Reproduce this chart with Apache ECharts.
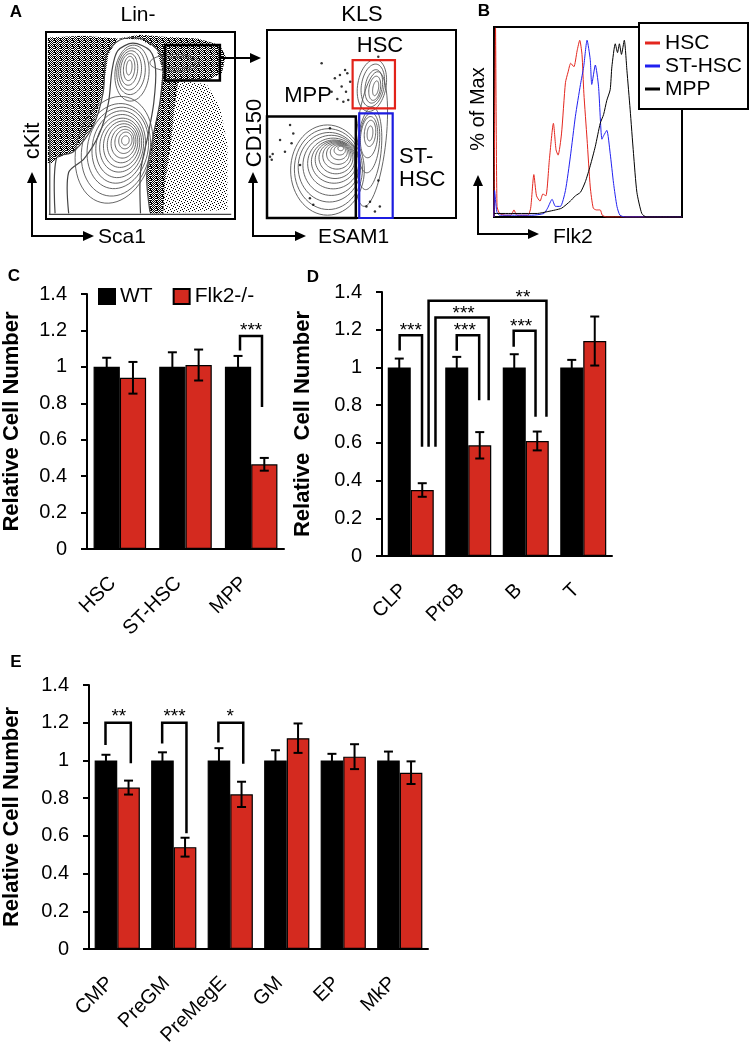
<!DOCTYPE html>
<html>
<head>
<meta charset="utf-8">
<script src="https://cdn.jsdelivr.net/npm/echarts/dist/echarts.min.js"></script>
<style>
html, body { margin: 0; padding: 0; background: #fff; }
#chart { width: 754px; height: 1050px; }
</style>
</head>
<body>
<div id="chart"></div>
<script>
var FONT = '"Liberation Sans", Arial, Helvetica, sans-serif';
var RED = '#d42a1f';

// ---- panel A : Lin- plot (units 0..100 on both axes)
var linRings = [
    [42, 42, 2, 2.5, 10], [42, 42, 3.5, 4.5, 10], [41.5, 41.5, 5, 6.5, 10], [41, 41, 6.5, 8.5, 10],
    [40.5, 40.5, 8, 10.5, 10], [40, 40, 9.5, 12.5, 10], [39.5, 39.5, 11, 14.5, 10], [39, 39, 12.5, 17, 10],
    [38.5, 38.5, 14, 19.5, 10], [38, 38, 16, 22, 12], [37, 37, 18, 25, 12], [36, 37, 20, 29, 14],
    [44, 81, 1.5, 4, 5], [44, 80.5, 3, 6.5, 5], [44, 80, 4.5, 8.5, 5], [44.5, 79.5, 6, 10.5, 5],
    [45, 79, 7.5, 12.5, 5], [45.5, 78, 9, 15, 5],
    [70, 83.5, 9, 3, 0], [68, 83.5, 13, 4.5, 0]
];
var linOutline = [
    [[4.8, 3], [5.6, 32.6], [14.5, 36], [25, 50], [30.3, 68], [32, 87.7], [39, 95.7], [49.7, 96.6], [58.5, 91], [62, 84], [60.3, 62.7], [56.8, 44.9], [53.3, 23.5], [55, 3.8]],
    [[12, 3], [12, 25], [20, 32], [28, 45], [33, 62], [35, 80], [38, 90], [46, 94], [55, 90], [58, 80], [57, 62], [54, 45], [50, 25], [50, 3]],
    [[1.5, 2.5], [98, 2.5]],
    [[2, 2.5], [2, 48]]
];
var linDense = [
    [[1, 97], [20, 98], [38, 96.5], [33, 88], [30, 68], [25, 50], [14.5, 36], [5.6, 32.6], [3, 30], [1, 30]],
    [[38, 96.5], [50, 98.5], [62, 97.5], [80, 96.5], [92, 93], [95, 87], [93, 78], [85, 74], [70, 74], [62, 78], [58.5, 91], [50, 96]],
    [[62, 84], [66, 76], [70, 74], [68, 60], [66, 40], [63, 20], [62, 3], [55, 3], [53.3, 23.5], [56.8, 44.9], [60.3, 62.7]]
];
var linSparse = [
    [[70, 74], [85, 72], [92, 60], [96, 40], [96, 5], [62, 3], [63, 20], [66, 40], [68, 60]]
];
var linGates = [[63, 74, 92, 93, 0]];

// ---- panel A : KLS plot
var klsRings = [
    [39, 37, 1.5, 1.2, 0], [38.5, 36, 3, 2.5, 0], [38, 35, 4.5, 4, 0], [37.5, 34, 6, 5.5, 0],
    [37, 33, 7.5, 7, 0], [36.5, 32, 9, 8.5, 0], [36, 31, 10.5, 10, 0], [35.5, 30, 12, 11.5, 0],
    [35, 29, 13.5, 13.5, 0], [34, 28, 15, 16, 0], [33, 27, 16.5, 18.5, 0], [32.5, 26, 18, 21.5, 0],
    [32, 25.5, 19.5, 24, 0],
    [57.5, 69, 1.5, 4, 10], [57, 69, 3, 6.5, 10], [56.5, 70, 4.5, 9, 10], [56, 70.5, 6, 11.5, 10], [55.5, 70.5, 7.5, 14, 10],
    [54.5, 45, 1.5, 4, 5], [54.5, 45, 3, 7, 5], [54, 43, 4.5, 11, 5], [54, 40, 5.5, 16, 5], [54, 37, 6.5, 22, 5], [55, 42, 8, 36, 6]
];
var klsDots = [
    [28.9, 82.3], [35.9, 74.3], [38.6, 76], [41.3, 78.7], [42.5, 77], [44, 72.5], [39.5, 70], [41.8, 67.2],
    [37.2, 63.3], [40.4, 61.9], [43, 62.8], [34.2, 67.2], [58.9, 85.8], [1.6, 32.6], [2.5, 31], [3, 34],
    [6.9, 41.5], [9.5, 35.3], [13.9, 45], [13, 39.7], [17.5, 28.2], [22.7, 10.5], [24.5, 7], [54.5, 8.7],
    [57.1, 3.4], [59.7, 6.1], [58.9, 20], [52.6, 6.1], [12.2, 49.5], [33.3, 47.7]
];
// x1, y1, x2, y2, colour index
var klsGates = [[0, 0, 47, 54, 0], [45.3, 58.3, 67.7, 84, 1], [48.8, 0, 66.5, 55.7, 2]];
var gateColors = ['#000000', '#e2231a', '#1c1ce0'];

// ---- panel B : Flk2 histograms (x 0..100, % of max)
var histHSC = [[0, 0], [0.8, 107], [1.6, 6], [3, 2], [6, 1], [9, 1], [10.6, 4], [12.2, 1], [18, 1], [19.5, 5], [21.2, 24],
    [22.6, 12], [24.5, 9], [26, 13], [27.6, 12], [29.5, 33], [31.6, 53], [33, 38], [34.1, 35], [35.9, 47], [38, 76],
    [39.4, 82], [40.8, 87], [42.5, 85], [44.2, 94], [45.6, 100], [46.8, 92], [47.8, 70], [49.5, 44], [51.2, 17],
    [52.8, 5], [54.5, 4], [56.5, 4], [57.6, 1], [60, 0], [100, 0]];
var histST = [[0, 0], [0.3, 15], [1.5, 3], [3, 1], [10, 1], [20, 1], [26.5, 2], [28.5, 5], [30.9, 10], [32.7, 6], [35.3, 6],
    [38, 15], [40.6, 34], [43.3, 57], [46, 75], [47.7, 85], [49.5, 100], [51.2, 89], [52, 75], [53.9, 86], [55.6, 74],
    [57.4, 44], [58.3, 46], [60, 49], [61.8, 36], [63.6, 19], [65.4, 6], [67, 1], [70, 0], [100, 0]];
var histMPP = [[0, 2], [10, 2], [23, 2], [28.3, 3], [32.7, 4], [36, 5], [40.6, 9], [43.3, 12], [46, 14], [48.6, 20],
    [51.2, 29], [53.9, 40], [56.5, 53], [58.3, 58], [60, 66], [61.8, 72], [62.7, 85], [64.5, 98], [65.7, 93], [66.7, 98],
    [67.8, 92], [69.3, 100], [70.7, 83], [72.4, 61], [74.2, 36], [76, 14], [78.6, 2], [81, 0], [100, 0]];

// ---- panel C
var catC = ['HSC', 'ST-HSC', 'MPP'];
var wtC = [1, 1, 1];
var wtErrC = [0.05, 0.08, 0.06];
var koC = [0.94, 1.01, 0.465];
var koErrC = [0.087, 0.085, 0.035];
// xLeft, yLeft, yTop, xRight, yRight, labelX, labelY, label   (x in category units)
var sigC = [[2.33, 1.09, 1.17, 2.665, 0.78, 2.5, 1.22, '***']];

// ---- panel D
var catD = ['CLP', 'ProB', 'B', 'T'];
var wtD = [1, 1, 1, 1];
var wtErrD = [0.047, 0.056, 0.07, 0.04];
var koD = [0.35, 0.587, 0.61, 1.14];
var koErrD = [0.036, 0.07, 0.05, 0.13];
var sigD = [
    [0.307, 1.09, 1.17, 0.696, 0.58, 0.5, 1.215, '***'],
    [1.30, 1.088, 1.17, 1.69, 0.826, 1.44, 1.215, '***'],
    [0.93, 0.58, 1.265, 1.855, 0.826, 1.42, 1.304, '***'],
    [2.29, 1.11, 1.194, 2.67, 0.738, 2.42, 1.237, '***'],
    [0.81, 0.58, 1.354, 2.86, 0.738, 2.45, 1.392, '**']
];

// ---- panel E
var catE = ['CMP', 'PreGM', 'PreMegE', 'GM', 'EP', 'MkP'];
var wtE = [1, 1, 1, 1, 1, 1];
var wtErrE = [0.03, 0.043, 0.065, 0.054, 0.035, 0.047];
var koE = [0.856, 0.54, 0.82, 1.118, 1.02, 0.935];
var koErrE = [0.037, 0.05, 0.067, 0.078, 0.066, 0.06];
var sigE = [
    [0.292, 1.082, 1.2, 0.74, 0.985, 0.527, 1.253, '**'],
    [1.295, 1.09, 1.2, 1.725, 0.614, 1.513, 1.253, '***'],
    [2.29, 1.095, 1.2, 2.73, 0.982, 2.5, 1.253, '*']
];

var myChart = echarts.init(document.getElementById('chart'));

// speckle textures for the dot-cloud areas of the flow plot
function speckle(cells) {
    var cv = document.createElement('canvas');
    cv.width = 6; cv.height = 6;
    var g = cv.getContext('2d');
    g.fillStyle = '#000';
    cells.forEach(function (c) { g.fillRect(c[0], c[1], 1, 1); });
    return { image: cv, repeat: 'repeat' };
}
var denseFill = speckle([[0, 0], [1, 0], [3, 0], [4, 1], [2, 1], [0, 2], [1, 2], [3, 2], [5, 2], [2, 3], [4, 3],
    [0, 4], [1, 4], [3, 4], [5, 4], [1, 5], [2, 5], [4, 5], [5, 0], [0, 3]]);
var sparseFill = speckle([[0, 0], [3, 1], [1, 3], [4, 4], [2, 5], [5, 2]]);

function ringSeries(gi, rings) {
    return {
        type: 'custom', xAxisIndex: gi, yAxisIndex: gi, silent: true, clip: true,
        data: rings, encode: { x: 0, y: 1 },
        renderItem: function (p, api) {
            var c = api.coord([api.value(0), api.value(1)]);
            var s = api.size([api.value(2), api.value(3)]);
            var a = api.value(4) * Math.PI / 180;
            var pts = [];
            for (var k = 0; k < 60; k++) {
                var t = k / 60 * 2 * Math.PI;
                var lx = s[0] * Math.cos(t), ly = -s[1] * Math.sin(t);
                pts.push([c[0] + lx * Math.cos(a) - ly * Math.sin(a), c[1] + lx * Math.sin(a) + ly * Math.cos(a)]);
            }
            return { type: 'polygon', shape: { points: pts }, style: { fill: 'none', stroke: '#555', lineWidth: 0.9 } };
        }
    };
}

function shapeSeries(gi, shapes, kind, style) {
    return {
        type: 'custom', xAxisIndex: gi, yAxisIndex: gi, silent: true, clip: true,
        data: shapes.map(function () { return [50, 50]; }), encode: { x: 0, y: 1 },
        renderItem: function (p, api) {
            var pts = shapes[p.dataIndex].map(function (q) { return api.coord(q); });
            return { type: kind, shape: { points: pts, smooth: kind === 'polyline' ? 0.3 : 0 }, style: style };
        }
    };
}

function gateSeries(gi, gates) {
    return {
        type: 'custom', xAxisIndex: gi, yAxisIndex: gi, silent: true, clip: false,
        data: gates, encode: { x: 0, y: 1 },
        renderItem: function (p, api) {
            var a = api.coord([api.value(0), api.value(3)]);
            var b = api.coord([api.value(2), api.value(1)]);
            var col = gateColors[api.value(4)];
            return { type: 'rect', shape: { x: a[0], y: a[1], width: b[0] - a[0], height: b[1] - a[1] },
                style: { fill: 'none', stroke: col, lineWidth: api.value(4) === 0 ? 2.5 : 2.2 } };
        }
    };
}

function barSeries(gi, name, vals, color) {
    return {
        type: 'bar', name: name, xAxisIndex: gi, yAxisIndex: gi, data: vals,
        barGap: '0%', barCategoryGap: '20%',
        itemStyle: { color: color, borderColor: '#000', borderWidth: 1.2 }
    };
}

function errSeries(gi, means, errs, side) {
    return {
        type: 'custom', xAxisIndex: gi, yAxisIndex: gi, silent: true, clip: false, z: 5,
        data: means.map(function (m, i) { return [i, m, errs[i]]; }), encode: { x: 0, y: 1 },
        renderItem: function (p, api) {
            var i = api.value(0), m = api.value(1), e = api.value(2);
            var band = api.size([1, 0])[0];
            var x = api.coord([i, m])[0] + (side ? 0.2 : -0.2) * band;
            var top = api.coord([i, m + e])[1], bot = api.coord([i, m - e])[1];
            var c = 4.5, st = { stroke: '#000', lineWidth: 2 };
            return { type: 'group', children: [
                { type: 'line', shape: { x1: x, y1: top, x2: x, y2: bot }, style: st },
                { type: 'line', shape: { x1: x - c, y1: top, x2: x + c, y2: top }, style: st },
                { type: 'line', shape: { x1: x - c, y1: bot, x2: x + c, y2: bot }, style: st }
            ] };
        }
    };
}

function sigSeries(gi, sig) {
    return {
        type: 'custom', xAxisIndex: gi, yAxisIndex: gi, silent: true, clip: false, z: 6,
        data: sig.map(function (s) { return [0, s[2]]; }), encode: { x: 0, y: 1 },
        renderItem: function (p, api) {
            var s = sig[p.dataIndex];
            var band = api.size([1, 0])[0];
            var x0 = api.coord([0, 0])[0] - 0.5 * band;
            function X(u) { return x0 + u * band; }
            function Y(v) { return api.coord([0, v])[1]; }
            return { type: 'group', children: [
                { type: 'polyline', shape: { points: [[X(s[0]), Y(s[1])], [X(s[0]), Y(s[2])], [X(s[3]), Y(s[2])], [X(s[3]), Y(s[4])]] },
                  style: { fill: 'none', stroke: '#000', lineWidth: 2.5 } },
                { type: 'text', x: X(s[5]), y: Y(s[6]) + 4,
                  style: { text: s[7], font: '19px ' + FONT, fill: '#000', align: 'center', verticalAlign: 'middle' } }
            ] };
        }
    };
}

function hiddenAxis(gi, max) {
    return { type: 'value', gridIndex: gi, min: 0, max: max, show: false };
}

function yBar(gi, name, gap) {
    return {
        type: 'value', gridIndex: gi, min: 0, max: 1.4, interval: 0.2,
        name: name, nameLocation: 'middle', nameGap: gap,
        nameTextStyle: { fontSize: 22, fontWeight: 'bold', color: '#000', fontFamily: FONT },
        axisLine: { show: true, lineStyle: { color: '#000', width: 2 } },
        axisTick: { show: true, length: 6, lineStyle: { color: '#000', width: 2 } },
        axisLabel: { fontSize: 20, color: '#000', margin: 20, fontFamily: FONT,
            formatter: function (v) { return String(+v.toFixed(1)); } },
        splitLine: { show: false }
    };
}

function xBar(gi, cats) {
    return {
        type: 'category', gridIndex: gi, data: cats,
        axisLine: { lineStyle: { color: '#000', width: 2 } },
        axisTick: { length: 7, lineStyle: { color: '#000', width: 2 } },
        axisLabel: { rotate: 45, fontSize: 20, color: '#000', margin: 24, interval: 0, fontFamily: FONT,
            padding: [0, 10, 0, 0] }
    };
}

function txt(x, y, s, size, opts) {
    opts = opts || {};
    return {
        type: 'text', x: x, y: y, rotation: opts.rot || 0, z: 100,
        style: { text: s, fill: '#000', font: (opts.bold ? 'bold ' : '') + size + 'px ' + FONT,
            align: opts.align || 'center', verticalAlign: 'middle' }
    };
}

function arrow(x1, y1, x2, y2) {
    var dx = x2 - x1, dy = y2 - y1, L = Math.sqrt(dx * dx + dy * dy), ux = dx / L, uy = dy / L, h = 11, w = 5;
    var bx = x2 - ux * h, by = y2 - uy * h;
    return [
        { type: 'line', z: 100, shape: { x1: x1, y1: y1, x2: bx, y2: by }, style: { stroke: '#000', lineWidth: 2 } },
        { type: 'polygon', z: 100, shape: { points: [[x2, y2], [bx - uy * w, by + ux * w], [bx + uy * w, by - ux * w]] }, style: { fill: '#000' } }
    ];
}

var graphics = [
    txt(16, 12, 'A', 17, { bold: true }),
    txt(138, 15, 'Lin-', 21),
    txt(362, 15, 'KLS', 22),
    txt(380, 46, 'HSC', 22),
    txt(308, 96, 'MPP', 22),
    txt(399, 157, 'ST-', 22, { align: 'left' }),
    txt(399, 180, 'HSC', 22, { align: 'left' }),
    txt(33, 141, 'cKit', 22, { rot: Math.PI / 2 }),
    txt(98, 237, 'Sca1', 21, { align: 'left' }),
    txt(255, 133, 'CD150', 22, { rot: Math.PI / 2 }),
    txt(318, 237, 'ESAM1', 21, { align: 'left' }),
    txt(484, 11, 'B', 17, { bold: true }),
    txt(478, 109, '% of Max', 20, { rot: Math.PI / 2 }),
    txt(553, 237, 'Flk2', 21, { align: 'left' }),
    txt(14, 276, 'C', 17, { bold: true }),
    txt(313, 277, 'D', 17, { bold: true }),
    txt(16, 662, 'E', 17, { bold: true })
].concat(
    arrow(32, 237, 32, 172), arrow(31, 236, 94, 236),
    arrow(253, 237, 253, 172), arrow(252, 236, 306, 236),
    arrow(478, 235, 478, 175), arrow(477, 234, 539, 234),
    arrow(219, 58, 261, 58)
);

var option = {
    animation: false,
    textStyle: { fontFamily: FONT },
    grid: [
        { left: 46, top: 32, width: 189, height: 187, show: true, borderColor: '#000', borderWidth: 2 },
        { left: 267, top: 30, width: 189, height: 188, show: true, borderColor: '#000', borderWidth: 2 },
        { left: 494, top: 27, width: 188, height: 190, show: true, borderColor: '#000', borderWidth: 2 },
        { left: 76, top: 294, width: 208, height: 255 },
        { left: 382, top: 292, width: 230, height: 264 },
        { left: 79, top: 685, width: 349, height: 264 }
    ],
    xAxis: [hiddenAxis(0, 100), hiddenAxis(1, 100), hiddenAxis(2, 100), xBar(3, catC), xBar(4, catD), xBar(5, catE)],
    yAxis: [hiddenAxis(0, 100), hiddenAxis(1, 100), hiddenAxis(2, 107.5),
        yBar(3, 'Relative Cell Number', 64), yBar(4, 'Relative  Cell Number', 68), yBar(5, 'Relative Cell Number', 66)],
    legend: [
        { data: ['WT', 'Flk2-/-'], left: 98, top: 286, icon: 'rect', itemWidth: 16, itemHeight: 15, itemGap: 20,
          padding: 0, selectedMode: false, textStyle: { fontSize: 21, color: '#000', fontFamily: FONT } },
        { data: ['HSC', 'ST-HSC', 'MPP'], orient: 'vertical', left: 639, top: 23, icon: 'rect', itemWidth: 15, itemHeight: 3,
          itemGap: 1, padding: [9, 6, 9, 6], borderColor: '#000', borderWidth: 2, backgroundColor: '#fff', selectedMode: false,
          textStyle: { fontSize: 21, lineHeight: 22, color: '#000', fontFamily: FONT } }
    ],
    graphic: graphics,
    series: [
        shapeSeries(0, linSparse, 'polygon', { fill: sparseFill, stroke: 'none' }),
        shapeSeries(0, linDense, 'polygon', { fill: denseFill, stroke: 'none' }),
        shapeSeries(0, linOutline, 'polyline', { fill: 'none', stroke: '#444', lineWidth: 1.2 }),
        ringSeries(0, linRings),
        gateSeries(0, linGates),
        ringSeries(1, klsRings),
        { type: 'scatter', xAxisIndex: 1, yAxisIndex: 1, data: klsDots, symbolSize: 2.5, itemStyle: { color: '#000' }, silent: true },
        gateSeries(1, klsGates),
        { type: 'line', name: 'HSC', xAxisIndex: 2, yAxisIndex: 2, data: histHSC, showSymbol: false, smooth: 0.2,
          lineStyle: { color: '#e3261e', width: 1 }, itemStyle: { color: '#e3261e' } },
        { type: 'line', name: 'ST-HSC', xAxisIndex: 2, yAxisIndex: 2, data: histST, showSymbol: false, smooth: 0.2,
          lineStyle: { color: '#2020f0', width: 1 }, itemStyle: { color: '#2020f0' } },
        { type: 'line', name: 'MPP', xAxisIndex: 2, yAxisIndex: 2, data: histMPP, showSymbol: false, smooth: 0.2,
          lineStyle: { color: '#000', width: 1 }, itemStyle: { color: '#000' } },
        barSeries(3, 'WT', wtC, '#000'),
        barSeries(3, 'Flk2-/-', koC, RED),
        errSeries(3, wtC, wtErrC, 0),
        errSeries(3, koC, koErrC, 1),
        sigSeries(3, sigC),
        barSeries(4, 'WT', wtD, '#000'),
        barSeries(4, 'Flk2-/-', koD, RED),
        errSeries(4, wtD, wtErrD, 0),
        errSeries(4, koD, koErrD, 1),
        sigSeries(4, sigD),
        barSeries(5, 'WT', wtE, '#000'),
        barSeries(5, 'Flk2-/-', koE, RED),
        errSeries(5, wtE, wtErrE, 0),
        errSeries(5, koE, koErrE, 1),
        sigSeries(5, sigE)
    ]
};

myChart.setOption(option);
</script>
</body>
</html>
